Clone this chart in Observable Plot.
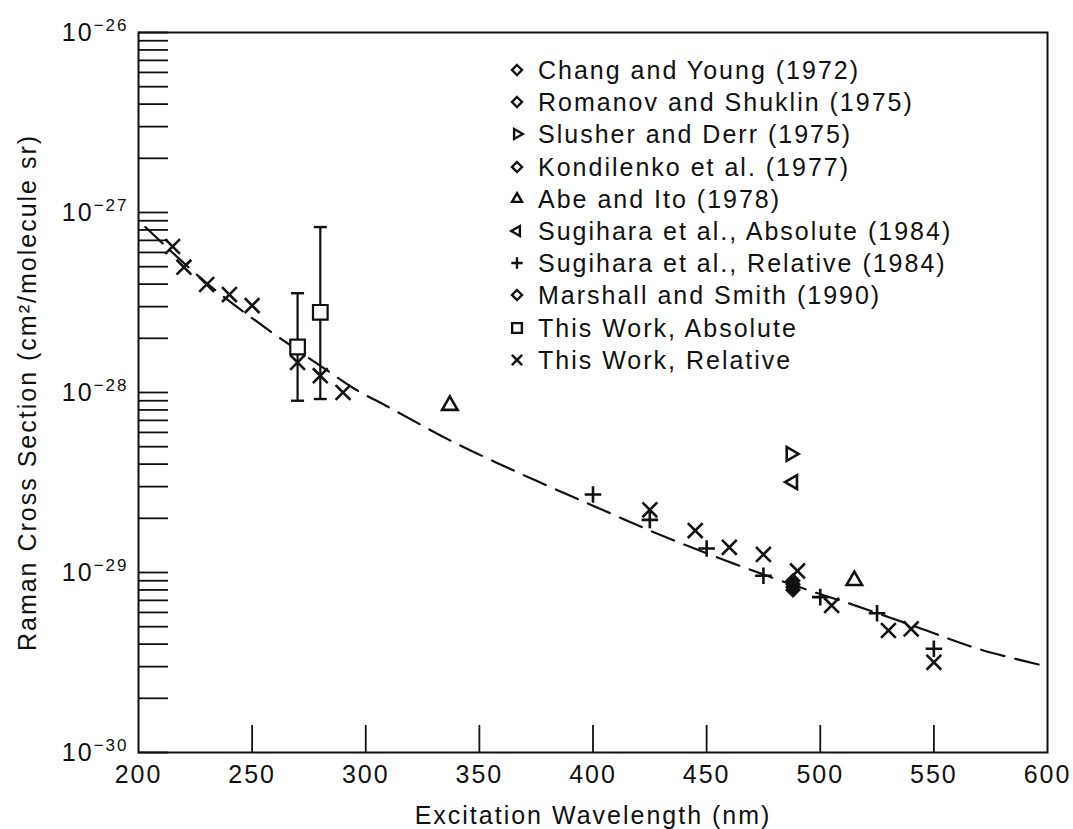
<!DOCTYPE html>
<html><head><meta charset="utf-8">
<script src="https://cdn.jsdelivr.net/npm/d3@7"></script>
<script src="https://cdn.jsdelivr.net/npm/@observablehq/plot@0.6"></script>
<style>
body{margin:0;background:#fff;}
#wrap{position:relative;width:1073px;height:829px;font-family:"Liberation Sans",Arial,Helvetica,sans-serif;color:#111;}
#wrap svg text{letter-spacing:2px;}
#legend{position:absolute;left:0;top:0;}
.lrow{position:absolute;left:507px;height:32px;line-height:32px;font-size:25px;letter-spacing:2px;white-space:nowrap;}
.lrow svg{position:absolute;left:0;top:6px;}
.lrow span{position:absolute;left:31px;top:0;}
</style></head><body><div id="wrap"></div>
<script>
// ---- data ----
const xTicks = [200, 250, 300, 350, 400, 450, 500, 550, 600];
const yMajor = [1e-30, 1e-29, 1e-28, 1e-27, 1e-26];
const yMinorMult = [2, 3, 4, 5, 6, 7, 8, 9];

// This Work, Relative (x)
const relLambda = [215, 220, 230, 240, 250, 270, 280, 290, 425, 445, 460, 475, 490, 505, 530, 540, 550];
const relValue = [6.47e-28, 4.97e-28, 3.98e-28, 3.5e-28, 3.04e-28, 1.47e-28, 1.24e-28, 1.0e-28, 2.23e-29, 1.71e-29, 1.38e-29, 1.26e-29, 1.02e-29, 6.56e-30, 4.76e-30, 4.86e-30, 3.17e-30];

// This Work, Absolute (squares with error bars)
const absLambda = [270, 280];
const absValue = [1.79e-28, 2.79e-28];
const absLow = [9.0e-29, 9.2e-29];
const absHigh = [3.56e-28, 8.3e-28];

// Sugihara et al., Relative (1984) (+)
const sugRelLambda = [400, 425, 450, 475, 500, 525, 550];
const sugRelValue = [2.71e-29, 1.96e-29, 1.36e-29, 9.6e-30, 7.3e-30, 5.94e-30, 3.77e-30];

// Sugihara et al., Absolute (1984) (left triangle)
const sugAbsLambda = [488];
const sugAbsValue = [3.18e-29];

// Slusher and Derr (1975) (right triangle)
const slusherLambda = [487];
const slusherValue = [4.56e-29];

// Abe and Ito (1978) (triangle)
const abeLambda = [337, 515];
const abeValue = [8.48e-29, 9.03e-30];

// Diamonds, all at 488 nm
const changLambda = [488], changValue = [8.6e-30];
const romanovLambda = [488], romanovValue = [8.0e-30];
const kondilenkoLambda = [488], kondilenkoValue = [9.0e-30];
const marshallLambda = [488], marshallValue = [8.3e-30];

// dashed fit curve
const fitLambda = [203, 230, 255, 281, 295, 310, 338, 369, 400, 430, 462, 495, 512, 543, 570, 600];
const fitValue = [8.3e-28, 4.05e-28, 2.33e-28, 1.38e-28, 1.05e-28, 8.3e-29, 5.35e-29, 3.5e-29, 2.35e-29, 1.61e-29, 1.12e-29, 7.95e-30, 6.78e-30, 4.95e-30, 3.75e-30, 3.0e-30];

const legendLabels = [
  "Chang and Young (1972)",
  "Romanov and Shuklin (1975)",
  "Slusher and Derr (1975)",
  "Kondilenko et al. (1977)",
  "Abe and Ito (1978)",
  "Sugihara et al., Absolute (1984)",
  "Sugihara et al., Relative (1984)",
  "Marshall and Smith (1990)",
  "This Work, Absolute",
  "This Work, Relative"
];

// ---- build ----
const ink = "#111";
const FONT = '"Liberation Sans", Arial, Helvetica, sans-serif';
const pts = (xs, ys) => xs.map((x, i) => ({x, y: ys[i]}));
const yAllTicks = yMajor.concat(yMajor.slice(0, -1).flatMap(d => yMinorMult.map(m => d * m)));
const abs = absLambda.map((x, i) => ({x, y: absValue[i], lo: absLow[i], hi: absHigh[i]}));
const capSymbol = {draw(ctx, size) { const r = Math.sqrt(size / Math.PI); ctx.moveTo(-r, 0); ctx.lineTo(r, 0); }};
const diamonds = pts(changLambda, changValue).concat(pts(romanovLambda, romanovValue), pts(kondilenkoLambda, kondilenkoValue), pts(marshallLambda, marshallValue));

const chart = Plot.plot({
  width: 1073, height: 829,
  marginLeft: 138, marginRight: 26, marginTop: 32, marginBottom: 77,
  style: {fontFamily: FONT, fontSize: "25px", color: ink, background: "#fff", overflow: "visible"},
  x: {domain: [200, 600], label: null},
  y: {type: "log", domain: [1e-30, 1e-26], label: null},
  marks: [
    Plot.tickY(yAllTicks, {y: d => d, insetRight: 879, stroke: ink, strokeWidth: 1.8}),
    Plot.tickX(xTicks.slice(1, -1), {x: d => d, insetTop: 693, stroke: ink, strokeWidth: 1.8}),
    Plot.frame({stroke: ink, strokeWidth: 2}),
    Plot.axisX(xTicks, {tickSize: 0, tickPadding: 13, label: null, tickFormat: d => String(d)}),
    Plot.axisY(yMajor, {tickSize: 0, tickPadding: 10, label: null, tickFormat: d => "10^" + Math.round(Math.log10(d))}),
    Plot.text(["Excitation Wavelength (nm)"], {frameAnchor: "bottom", textAnchor: "middle", lineAnchor: "middle", dy: 63, fontSize: 25, fill: ink}),
    Plot.text(["Raman Cross Section (cm²/molecule sr)"], {frameAnchor: "left", textAnchor: "middle", lineAnchor: "middle", dx: -111, rotate: -90, fontSize: 25, fill: ink}),
    Plot.line(pts(fitLambda, fitValue), {x: "x", y: "y", curve: "catmull-rom", stroke: ink, strokeWidth: 2.2, strokeDasharray: "24,11"}),
    Plot.ruleX(abs, {x: "x", y1: "lo", y2: "hi", stroke: ink, strokeWidth: 2.2}),
    Plot.dot(abs, {x: "x", y: "lo", symbol: capSymbol, r: 6.5, stroke: ink, strokeWidth: 2.4, fill: "none"}),
    Plot.dot(abs, {x: "x", y: "hi", symbol: capSymbol, r: 6.5, stroke: ink, strokeWidth: 2.4, fill: "none"}),
    Plot.dot(abs, {x: "x", y: "y", symbol: "square2", r: 9.3, stroke: ink, strokeWidth: 2.2, fill: "white"}),
    Plot.dot(pts(relLambda, relValue), {x: "x", y: "y", symbol: "times", r: 6.8, stroke: ink, strokeWidth: 2.6}),
    Plot.dot(pts(sugRelLambda, sugRelValue), {x: "x", y: "y", symbol: "plus", r: 5.4, stroke: ink, strokeWidth: 2.6}),
    Plot.dot(pts(abeLambda, abeValue), {x: "x", y: "y", symbol: "triangle2", r: 7.4, stroke: ink, strokeWidth: 2.6, fill: "none"}),
    Plot.dot(pts(slusherLambda, slusherValue), {x: "x", y: "y", symbol: "triangle2", r: 6.6, rotate: 90, stroke: ink, strokeWidth: 2.6, fill: "none"}),
    Plot.dot(pts(sugAbsLambda, sugAbsValue), {x: "x", y: "y", symbol: "triangle2", r: 6.6, rotate: -90, stroke: ink, strokeWidth: 2.6, fill: "none"}),
    Plot.dot(diamonds, {x: "x", y: "y", symbol: "diamond2", r: 5.4, stroke: ink, strokeWidth: 2.8, fill: "none"})
  ]
});

// superscript exponents on y tick labels
d3.select(chart).selectAll('g[aria-label="y-axis tick label"] text').each(function () {
  const t = this.textContent;
  const parts = t.split("^");
  const s = d3.select(this);
  s.text(null);
  s.append("tspan").text(parts[0]);
  s.append("tspan").attr("dy", "-0.55em").attr("font-size", "17px").text(parts[1].replace("-", "\u2212"));
});

const wrap = document.getElementById("wrap");
wrap.appendChild(chart);

// legend
const legendSymbols = [
  {type: d3.symbolDiamond2, size: 64, rot: 0},
  {type: d3.symbolDiamond2, size: 64, rot: 0},
  {type: d3.symbolTriangle2, size: 72, rot: 90},
  {type: d3.symbolDiamond2, size: 64, rot: 0},
  {type: d3.symbolTriangle2, size: 72, rot: 0},
  {type: d3.symbolTriangle2, size: 72, rot: -90},
  {type: d3.symbolPlus, size: 44, rot: 0},
  {type: d3.symbolDiamond2, size: 64, rot: 0},
  {type: d3.symbolSquare2, size: 120, rot: 0},
  {type: d3.symbolTimes, size: 70, rot: 0}
];
const legend = d3.select(wrap).append("div").attr("id", "legend");
legendLabels.forEach((label, i) => {
  const row = legend.append("div").attr("class", "lrow").style("top", (70 + i * 32.2 - 16) + "px");
  const svg = row.append("svg").attr("width", 20).attr("height", 20);
  svg.append("path")
    .attr("d", d3.symbol(legendSymbols[i].type, legendSymbols[i].size)())
    .attr("transform", `translate(10,10) rotate(${legendSymbols[i].rot})`)
    .attr("fill", "none").attr("stroke", ink).attr("stroke-width", 2.4);
  row.append("span").text(label);
});
</script></body></html>
